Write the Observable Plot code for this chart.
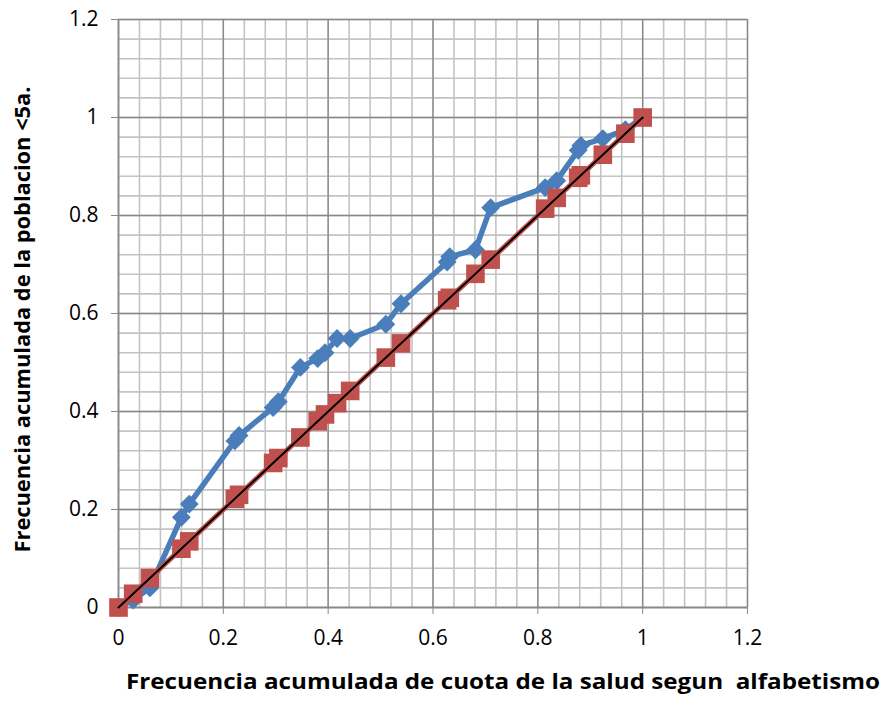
<!DOCTYPE html>
<html>
<head>
<meta charset="utf-8">
<script src="https://cdn.jsdelivr.net/npm/d3@7"></script>
<script src="https://cdn.jsdelivr.net/npm/@observablehq/plot@0.6"></script>
<style>
  html, body { margin: 0; padding: 0; background: #fff; }
  svg text { white-space: pre; }
</style>
</head>
<body>
<div id="chart"></div>
<script>
// Cumulative share of health resources (x) against cumulative population under 5 (y)
const cuotaSalud = [0, 0.028, 0.060, 0.120, 0.135, 0.222, 0.230, 0.295, 0.305, 0.347, 0.380, 0.394,
  0.417, 0.442, 0.510, 0.539, 0.627, 0.632, 0.681, 0.710, 0.814, 0.836, 0.877, 0.882, 0.924, 0.967, 1];
const poblacion = [0, 0.015, 0.040, 0.184, 0.211, 0.340, 0.351, 0.408, 0.420, 0.490, 0.508, 0.520,
  0.549, 0.549, 0.578, 0.620, 0.705, 0.716, 0.730, 0.816, 0.857, 0.871, 0.933, 0.943, 0.957, 0.975, 1];

// Line of equality
const igualdad = [0, 1];

const ticks = [0, 0.2, 0.4, 0.6, 0.8, 1, 1.2];
const tickLabels = ["0", "0.2", "0.4", "0.6", "0.8", "1", "1.2"];
const minorTicks = d3.range(0, 31).map(k => k * 0.04);

const xTitle = "Frecuencia acumulada de cuota de la salud segun  alfabetismo";
const yTitle = "Frecuencia acumulada de la poblacion <5a.";

const idx = d3.range(cuotaSalud.length);
const fmt = d => tickLabels[ticks.indexOf(d)];

const blue = "#4A7EBB";
const red = "#C0504D";
const gridMinor = "#C3C3C3";
const gridMajor = "#888888";

const chart = Plot.plot({
  width: 884,
  height: 702,
  marginLeft: 118,
  marginRight: 137,
  marginTop: 19,
  marginBottom: 95,
  style: { fontFamily: "'Open Sans', sans-serif", fontSize: "21px", color: "black", background: "white" },
  x: { domain: [0, 1.2] },
  y: { domain: [0, 1.2] },
  marks: [
    Plot.gridX(minorTicks, { stroke: gridMinor, strokeOpacity: 1, strokeWidth: 1.6 }),
    Plot.gridY(minorTicks, { stroke: gridMinor, strokeOpacity: 1, strokeWidth: 1.6 }),
    Plot.gridX(ticks, { stroke: gridMajor, strokeOpacity: 1, strokeWidth: 1.3 }),
    Plot.gridY(ticks, { stroke: gridMajor, strokeOpacity: 1, strokeWidth: 1.3 }),
    Plot.axisX(ticks, { tickSize: 7, tickPadding: 16, stroke: gridMajor, tickFormat: fmt, label: null }),
    Plot.axisY(ticks, { tickSize: 7, tickPadding: 13, stroke: gridMajor, tickFormat: fmt, label: null }),
    Plot.ruleX([0], { stroke: gridMajor, strokeWidth: 1.5 }),
    Plot.ruleY([0], { stroke: gridMajor, strokeWidth: 1.5 }),

    // Observed distribution
    Plot.line(idx, { x: i => cuotaSalud[i], y: i => poblacion[i], stroke: blue, strokeWidth: 5.5, strokeLinejoin: "round" }),
    Plot.dot(idx, { x: i => cuotaSalud[i], y: i => poblacion[i], symbol: "diamond2", r: 8.5, fill: blue }),

    // Equal distribution reference series
    Plot.line(idx, { x: i => cuotaSalud[i], y: i => cuotaSalud[i], stroke: red, strokeWidth: 5 }),
    Plot.dot(idx, { x: i => cuotaSalud[i], y: i => cuotaSalud[i], symbol: "square", r: 10.5, fill: red }),

    // Diagonal
    Plot.line(igualdad, { x: d => d, y: d => d, stroke: "black", strokeWidth: 2 }),

    // Axis titles
    Plot.text([xTitle], { text: d => d, frameAnchor: "bottom", dx: 70, dy: 81, fontWeight: "bold", fontSize: 22, className: "x-title" }),
    Plot.text([yTitle], { text: d => d, frameAnchor: "left", textAnchor: "middle", dx: -95, dy: 6, rotate: -90, fontWeight: "bold", fontSize: 21, className: "y-title" })
  ]
});

d3.select(chart).select(".x-title text").attr("textLength", 754).attr("lengthAdjust", "spacingAndGlyphs");
d3.select(chart).select(".y-title text").attr("textLength", 466).attr("lengthAdjust", "spacingAndGlyphs");

document.getElementById("chart").appendChild(chart);
</script>
</body>
</html>
